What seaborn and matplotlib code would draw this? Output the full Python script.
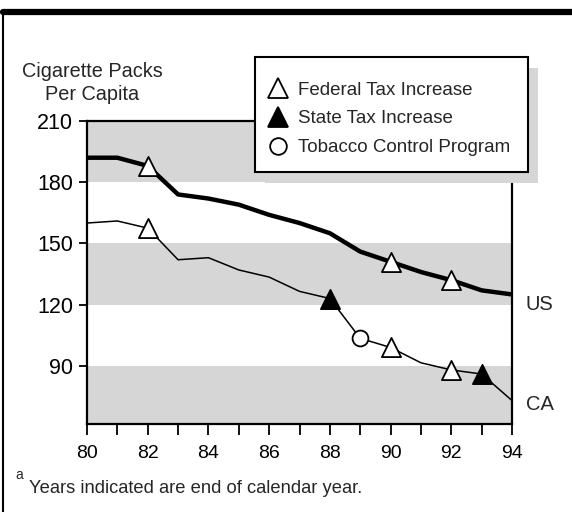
import pandas as pd
import matplotlib.pyplot as plt
import seaborn as sns
from matplotlib.lines import Line2D
from matplotlib.patches import Rectangle

# data
years = list(range(80, 95))
us_packs = [192, 192, 188, 174, 172, 169, 164, 160, 155, 146, 141, 136, 132, 127, 125]
ca_packs = [160, 161, 157.5, 142, 143, 137, 133.5, 126.5, 123, 103.5, 99, 91.5, 88, 86, 73]

event_labels = ["Federal Tax Increase", "State Tax Increase", "Tobacco Control Program"]
us_events = {82: "Federal Tax Increase", 90: "Federal Tax Increase", 92: "Federal Tax Increase"}
ca_events = {82: "Federal Tax Increase", 88: "State Tax Increase", 89: "Tobacco Control Program",
             90: "Federal Tax Increase", 92: "Federal Tax Increase", 93: "State Tax Increase"}

y_ticks = [90, 120, 150, 180, 210]
gray_bands = [(61.5, 90), (120, 150), (180, 210)]

sns.set_style("white")
plt.rcParams["font.family"] = ["Liberation Sans", "DejaVu Sans"]

W, H = 572, 512


def fx(px):
    return px / W


def fy(py):
    return 1 - py / H


df = pd.DataFrame({"year": years * 2,
                   "packs": us_packs + ca_packs,
                   "region": ["US"] * len(years) + ["CA"] * len(years)})

ev_rows = []
for yr, ev in us_events.items():
    ev_rows.append({"year": yr, "packs": us_packs[years.index(yr)], "event": ev})
for yr, ev in ca_events.items():
    ev_rows.append({"year": yr, "packs": ca_packs[years.index(yr)], "event": ev})
ev_df = pd.DataFrame(ev_rows)

fig = plt.figure(figsize=(5.72, 5.12), dpi=100)
ax = fig.add_axes([fx(87), fy(424), (512 - 87) / W, (424 - 121) / H])

for lo, hi in gray_bands:
    ax.axhspan(lo, hi, color="#d6d6d6", lw=0, zorder=0)

sns.lineplot(data=df, x="year", y="packs", hue="region", size="region",
             sizes={"US": 3.2, "CA": 1.1}, palette={"US": "black", "CA": "black"},
             legend=False, ax=ax, zorder=2)

marker_map = {"Federal Tax Increase": "^", "State Tax Increase": "^", "Tobacco Control Program": "o"}
face_map = {"Federal Tax Increase": "white", "State Tax Increase": "black", "Tobacco Control Program": "white"}
size_map = {"Federal Tax Increase": 190, "State Tax Increase": 190, "Tobacco Control Program": 130}
for ev in event_labels:
    sub = ev_df[ev_df["event"] == ev]
    sns.scatterplot(data=sub, x="year", y="packs", marker=marker_map[ev], s=size_map[ev],
                    color=face_map[ev], edgecolor="black", linewidth=1.3, ax=ax, zorder=3)

ax.set_xlim(80, 94)
ax.set_ylim(61.5, 210)
ax.set_xticks(years)
ax.set_xticklabels([str(y) if y % 2 == 0 else "" for y in years], fontsize=14)
ax.set_yticks(y_ticks)
ax.set_yticklabels([str(v) for v in y_ticks], fontsize=15.5)
ax.tick_params(axis="x", bottom=True, direction="out", length=8, width=1.3, pad=7, colors="black")
ax.tick_params(axis="y", left=True, direction="out", length=6, width=1.3, pad=4, colors="black")
ax.set_xlabel("")
ax.set_ylabel("")
for side in ["left", "right", "top", "bottom"]:
    ax.spines[side].set_visible(True)
    ax.spines[side].set_color("black")
    ax.spines[side].set_linewidth(1.6)

ax.annotate("US", xy=(94, us_packs[-1]), xytext=(10, -7), textcoords="offset points",
            va="center", ha="left", fontsize=14.5)
ax.annotate("CA", xy=(94, ca_packs[-1]), xytext=(10, -3), textcoords="offset points",
            va="center", ha="left", fontsize=14.5)

fig.text(fx(92), fy(83), "Cigarette Packs\nPer Capita", ha="center", va="center",
         fontsize=14.3, linespacing=1.25)

# legend box with its flat gray shadow
fig.add_artist(Rectangle((fx(265), fy(183)), (528 - 255) / W, (172 - 57) / H, transform=fig.transFigure,
                         facecolor="#d6d6d6", edgecolor="none", zorder=2))
fig.add_artist(Rectangle((fx(255), fy(172)), (528 - 255) / W, (172 - 57) / H, transform=fig.transFigure,
                         facecolor="white", edgecolor="black", lw=1.5, zorder=3))

handles = [Line2D([], [], ls="none", marker=marker_map[ev], markersize=15,
                  markerfacecolor=face_map[ev], markeredgecolor="black", markeredgewidth=1.3)
           for ev in event_labels]
handles[2].set_markersize(12)
leg = fig.legend(handles, event_labels, loc="upper left", bbox_to_anchor=(fx(265), fy(81.5)),
                 borderaxespad=0, borderpad=0, frameon=False, fontsize=13.5,
                 handlelength=1.35, handletextpad=0.4, labelspacing=0.62)
leg.set_zorder(5)

# footnote
fig.text(fx(15), fy(479), "a", fontsize=10, va="baseline")
fig.text(fx(29), fy(493), "Years indicated are end of calendar year.", fontsize=13.2, va="baseline")

# page frame
fig.add_artist(Line2D([fx(3), fx(3)], [0, fy(11)], color="black", lw=1.5))
fig.add_artist(Line2D([fx(3), 1], [fy(11.5), fy(11.5)], color="black", lw=4.5))

plt.savefig("out.png", dpi=100)
